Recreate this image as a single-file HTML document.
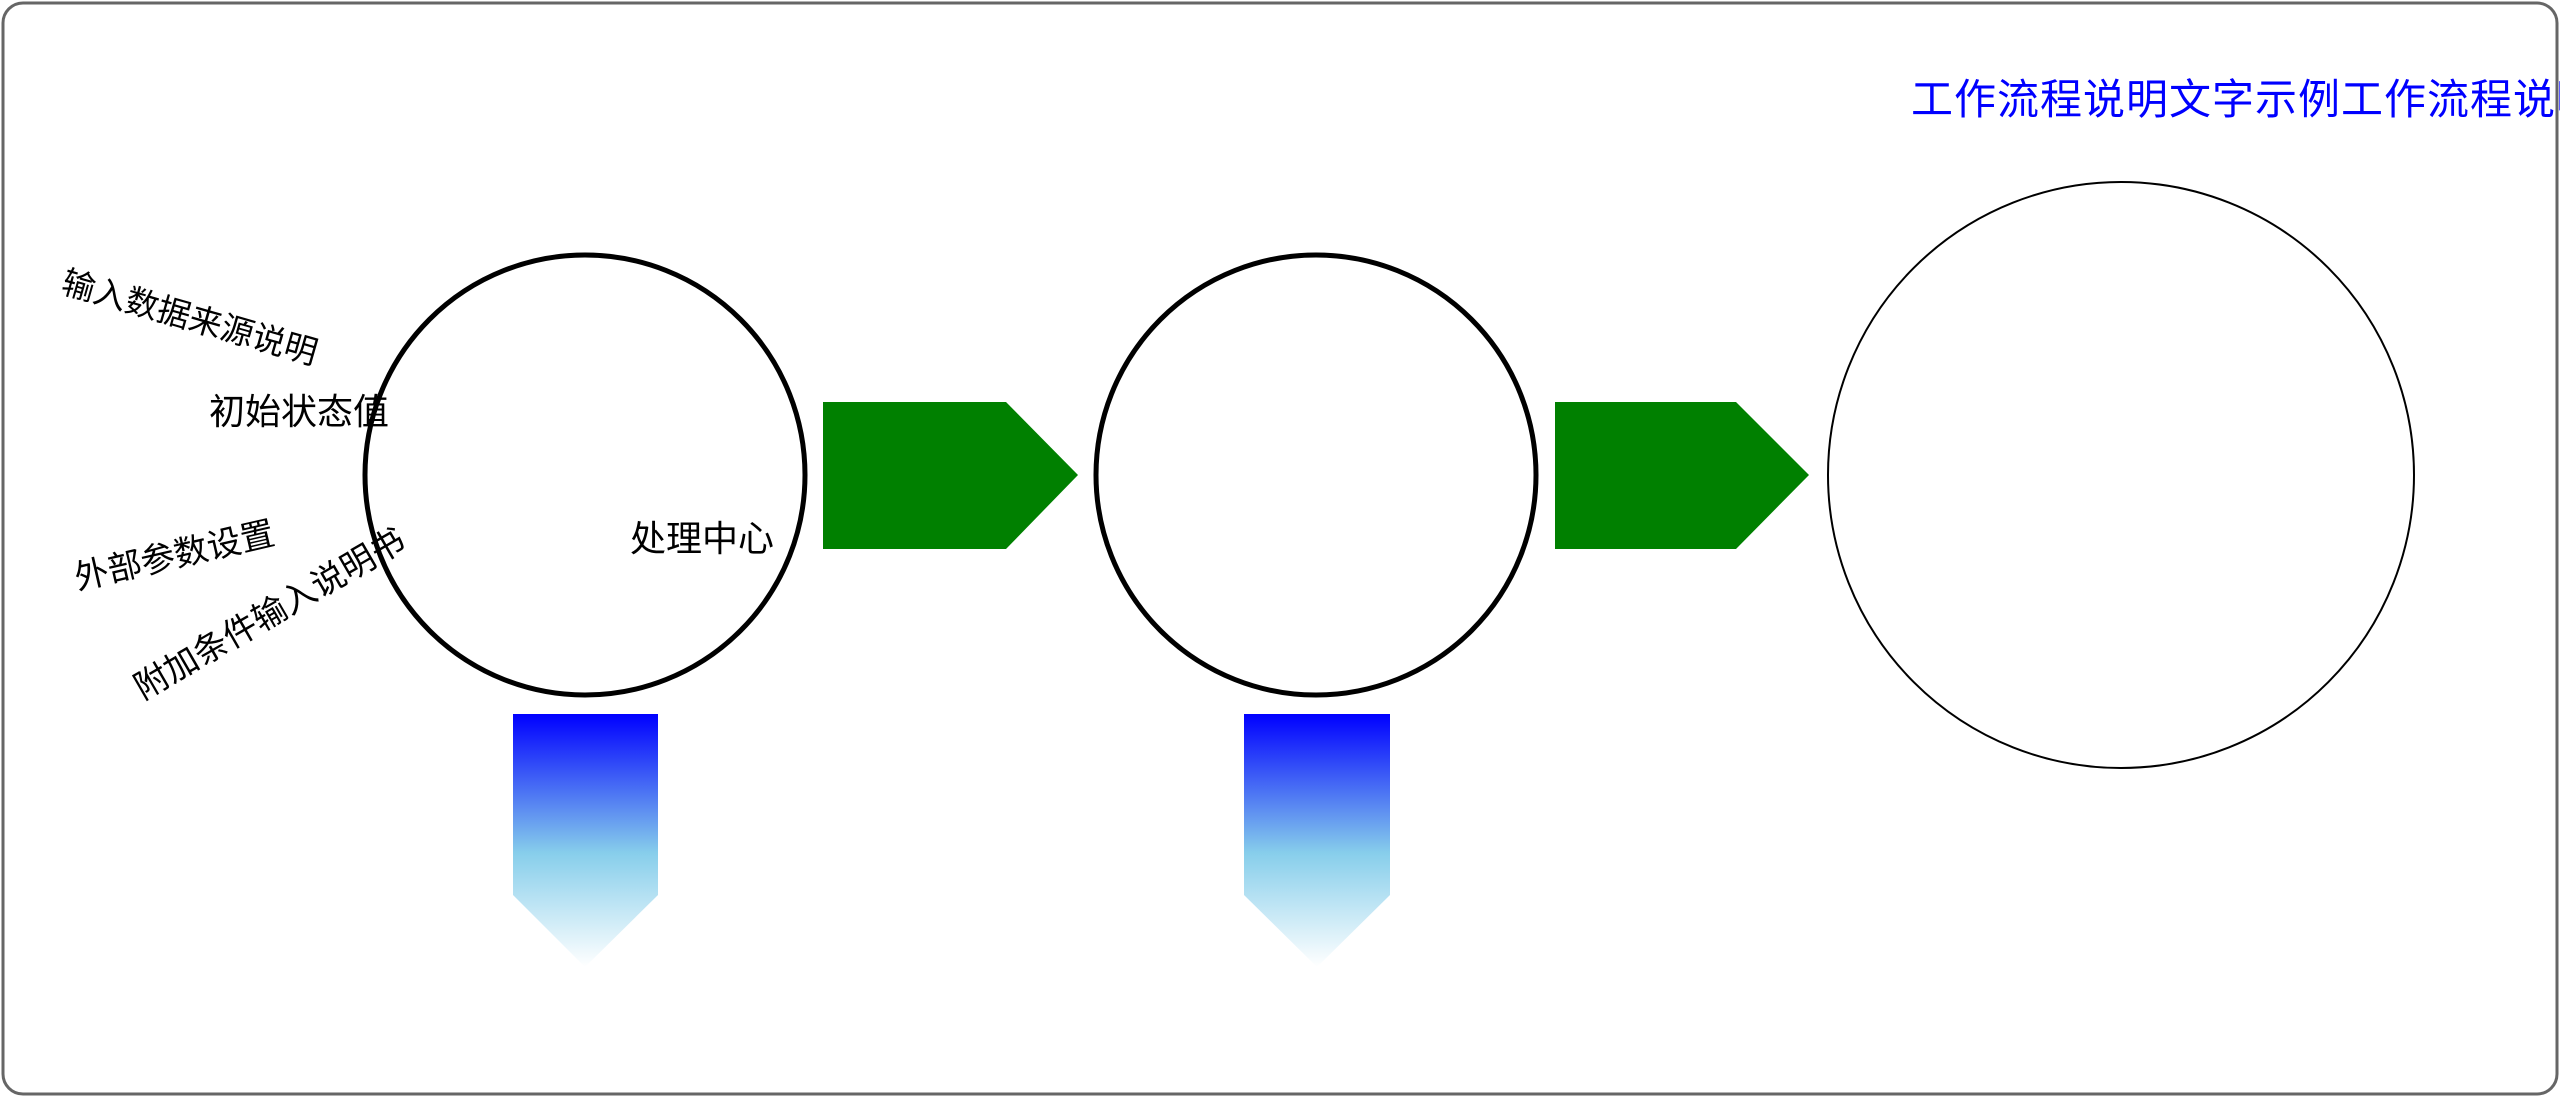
<!DOCTYPE html>
<html><head><meta charset="utf-8"><style>
html,body{margin:0;padding:0;background:#fff;width:2560px;height:1097px;overflow:hidden}
svg text{font-family:"Liberation Sans","Noto Sans CJK SC",sans-serif}
</style></head><body>
<svg width="2560" height="1097" viewBox="0 0 2560 1097" xmlns="http://www.w3.org/2000/svg">
<defs>
<linearGradient id="bg" x1="0" y1="0" x2="0" y2="1">
<stop offset="0" stop-color="#0000ff"/>
<stop offset="0.55" stop-color="#87ceeb"/>
<stop offset="1" stop-color="#ffffff"/>
</linearGradient>
</defs>
<rect x="3" y="3" width="2554" height="1091" rx="20" ry="20" fill="#fff" stroke="#666" stroke-width="3"/>
<circle cx="585" cy="475" r="220" fill="none" stroke="#000" stroke-width="5"/>
<circle cx="1316" cy="475" r="220" fill="none" stroke="#000" stroke-width="5"/>
<circle cx="2121" cy="475" r="293" fill="none" stroke="#000" stroke-width="2"/>
<polygon points="823,402 1006,402 1078,475 1006,549 823,549" fill="#008000"/>
<polygon points="1555,402 1736,402 1809,475 1736,549 1555,549" fill="#008000"/>
<polygon points="513,714 658,714 658,895 585,967 513,895" fill="url(#bg)"/>
<polygon points="1244,714 1390,714 1390,895 1317,967 1244,895" fill="url(#bg)"/>
<text x="1911" y="114" font-size="42" fill="#0000ff" letter-spacing="1">工作流程说明文字示例工作流程说明文字</text>
<text x="189" y="320" font-size="33" fill="#000" text-anchor="middle" dominant-baseline="middle" transform="rotate(16 189 320)">输入数据来源说明</text>
<text x="209" y="424" font-size="36" fill="#000">初始状态值</text>
<text x="630" y="551" font-size="36" fill="#000">处理中心</text>
<text x="175" y="558" font-size="34" fill="#000" text-anchor="middle" dominant-baseline="middle" transform="rotate(-13 175 558)">外部参数设置</text>
<text x="271" y="616" font-size="34" fill="#000" text-anchor="middle" dominant-baseline="middle" transform="rotate(-30 271 616)">附加条件输入说明书</text>
</svg>
</body></html>
